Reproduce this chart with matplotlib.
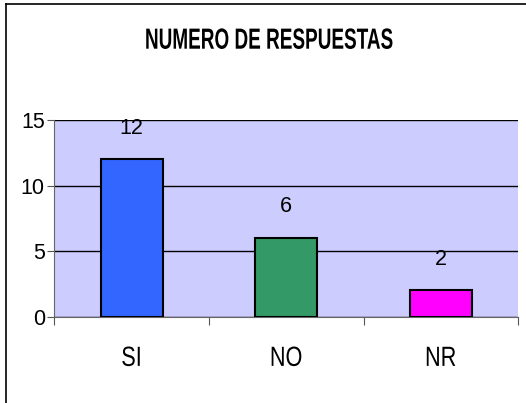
import matplotlib
matplotlib.use("Agg")
import matplotlib.pyplot as plt
from matplotlib.lines import Line2D
from matplotlib.patheffects import AbstractPathEffect
from matplotlib.transforms import Affine2D

categories = ["SI", "NO", "NR"]
values = [12, 6, 2]
bar_colors = ["#3366FF", "#339966", "#FF00FF"]
yticks = [0, 5, 10, 15]
title = "NUMERO DE RESPUESTAS"

font = ["Liberation Sans", "DejaVu Sans"]


class Squeeze(AbstractPathEffect):
    """Narrow the glyphs horizontally about their own centre (old Excel look)."""

    def __init__(self, sx):
        super().__init__()
        self.sx = sx

    def draw_path(self, renderer, gc, tpath, affine, rgbFace=None):
        xs = tpath.vertices[:, 0]
        cx = (xs.min() + xs.max()) / 2 if len(xs) else 0
        squeeze = Affine2D().translate(-cx, 0).scale(self.sx, 1).translate(cx, 0)
        renderer.draw_path(gc, tpath, squeeze + affine, rgbFace)


fig = plt.figure(figsize=(5.26, 4.03), dpi=100)
ax = fig.add_axes([0.1036, 0.2141, 0.8812, 0.4881])
ax.set_facecolor("#CCCCFF")

x = list(range(len(categories)))
ax.bar(x, values, width=0.4, color=bar_colors, edgecolor="black", linewidth=1.5, zorder=3)

for xi, v in zip(x, values):
    ax.annotate(str(v), (xi, v), xytext=(0, 15), textcoords="offset points",
                ha="center", va="bottom", fontsize=15.5, family=font)

ax.set_xlim(-0.5, 2.5)
ax.set_ylim(0, 15)
ax.set_yticks(yticks)
ax.set_yticklabels([str(t) for t in yticks], fontsize=15.5, family=font)
ax.yaxis.grid(True, color="black", linewidth=1)
ax.set_axisbelow(True)

# ticks sit on category boundaries, labels in the middle
ax.set_xticks([-0.5, 0.5, 1.5, 2.5])
ax.set_xticklabels([])
ax.set_xticks(x, minor=True)
ax.set_xticklabels(categories, minor=True, fontsize=20, family=font)
for lbl in ax.get_xticklabels(minor=True):
    lbl.set_path_effects([Squeeze(0.78)])
ax.tick_params(axis="x", which="minor", length=0, pad=21)
ax.tick_params(axis="x", which="major", length=6, direction="out", color="#555555")
ax.tick_params(axis="y", length=5, direction="out", color="#555555", pad=2)

for side in ["top", "right"]:
    ax.spines[side].set_visible(False)
ax.spines["left"].set_color("#666666")
ax.spines["bottom"].set_color("#666666")

fig.text(0.512, 0.899, title, ha="center", va="center", fontsize=21,
         fontweight="bold", family=font, path_effects=[Squeeze(0.65)])

# chart frame: only top and left edges show
fig.add_artist(Line2D([6 / 526, 6 / 526], [0, 1 - 4 / 403], transform=fig.transFigure,
                      color="black", linewidth=1.2))
fig.add_artist(Line2D([6 / 526, 1], [1 - 4 / 403, 1 - 4 / 403], transform=fig.transFigure,
                      color="black", linewidth=1.2))

fig.savefig("out.png", dpi=100)
